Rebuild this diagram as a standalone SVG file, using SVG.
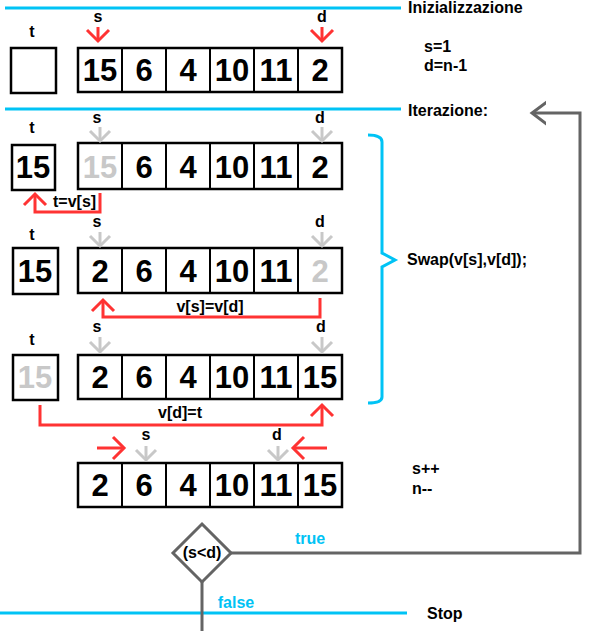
<svg xmlns="http://www.w3.org/2000/svg" width="592" height="632" viewBox="0 0 592 632">
<style>
text{font-family:"Liberation Sans",Arial,sans-serif;font-weight:bold;fill:#000}
.lbl{font-size:16px}
.num{font-size:31px;text-anchor:middle}
.ghost{fill:#c8c8c8}
.mid{text-anchor:middle}
.cy{fill:#00c3f5}
.box{fill:#fff;stroke:#000;stroke-width:2.5}
.div{stroke:#000;stroke-width:2}
.sep{stroke:#00c3f5;stroke-width:3;fill:none}
.red{stroke:#f33;stroke-width:3;fill:none;marker-end:url(#hr)}
.gp{stroke:#c8c8c8;stroke-width:3;fill:none;marker-end:url(#hg)}
.flow{stroke:#646464;stroke-width:3;fill:none}
</style>
<defs>
<marker id="hr" viewBox="-13 -13 26 26" markerWidth="26" markerHeight="26" markerUnits="userSpaceOnUse" orient="auto" refX="0" refY="0"><path d="M-11,-11 L0,0 L-11,11" fill="none" stroke="#f33" stroke-width="3"/></marker>
<marker id="hg" viewBox="-13 -13 26 26" markerWidth="26" markerHeight="26" markerUnits="userSpaceOnUse" orient="auto" refX="0" refY="0"><path d="M-10,-10 L0,0 L-10,10" fill="none" stroke="#c8c8c8" stroke-width="3"/></marker>
<marker id="hk" viewBox="-14 -14 28 28" markerWidth="28" markerHeight="28" markerUnits="userSpaceOnUse" orient="auto" refX="0" refY="0"><path d="M-16,-12 L0,0 L-16,12" fill="none" stroke="#646464" stroke-width="3"/></marker>
</defs>

<g id="separators">
<line class="sep" x1="5" y1="8" x2="401" y2="8"/>
<text class="lbl" x="408" y="13">Inizializzazione</text>
<line class="sep" x1="5" y1="109" x2="401" y2="109"/>
<text class="lbl" x="408" y="116">Iterazione:</text>
<line class="sep" x1="0" y1="613" x2="407" y2="613"/>
<text class="lbl" x="427" y="619">Stop</text>
</g>

<g id="row1">
<text class="lbl mid" x="32" y="37">t</text>
<rect class="box" x="11" y="48" width="45" height="45"/>
<rect class="box" x="78" y="48" width="264" height="44"/>
<path class="div" d="M122,48V92M166,48V92M210,48V92M254,48V92M298,48V92"/>
<text class="num" x="100" y="81">15</text><text class="num" x="144" y="81">6</text><text class="num" x="188" y="81">4</text><text class="num" x="232" y="81">10</text><text class="num" x="276" y="81">11</text><text class="num" x="320" y="81">2</text>
<text class="lbl mid" x="98" y="22">s</text>
<text class="lbl mid" x="322" y="22">d</text>
<line class="red" x1="98" y1="27" x2="98" y2="41"/>
<line class="red" x1="322" y1="27" x2="322" y2="41"/>
<text class="lbl" x="424" y="52">s=1</text>
<text class="lbl" x="424" y="71">d=n-1</text>
</g>

<g id="row2">
<text class="lbl mid" x="32" y="133">t</text>
<rect class="box" x="12" y="145" width="43" height="45"/>
<text class="num" x="33" y="178">15</text>
<rect class="box" x="78" y="143" width="264" height="46"/>
<path class="div" d="M122,143V189M166,143V189M210,143V189M254,143V189M298,143V189"/>
<text class="num ghost" x="100" y="178">15</text><text class="num" x="144" y="178">6</text><text class="num" x="188" y="178">4</text><text class="num" x="232" y="178">10</text><text class="num" x="276" y="178">11</text><text class="num" x="320" y="178">2</text>
<text class="lbl mid" x="97" y="123">s</text>
<text class="lbl mid" x="320" y="123">d</text>
<line class="gp" x1="100" y1="127" x2="100" y2="141"/>
<line class="gp" x1="322" y1="127" x2="322" y2="141"/>
</g>

<g id="row3">
<text class="lbl mid" x="32" y="240">t</text>
<rect class="box" x="13" y="248" width="45" height="46"/>
<text class="num" x="35" y="282">15</text>
<rect class="box" x="78" y="248" width="264" height="45"/>
<path class="div" d="M122,248V293M166,248V293M210,248V293M254,248V293M298,248V293"/>
<text class="num" x="100" y="282">2</text><text class="num" x="144" y="282">6</text><text class="num" x="188" y="282">4</text><text class="num" x="232" y="282">10</text><text class="num" x="276" y="282">11</text><text class="num ghost" x="320" y="282">2</text>
<text class="lbl mid" x="97" y="227">s</text>
<text class="lbl mid" x="320" y="227">d</text>
<line class="gp" x1="100" y1="232" x2="100" y2="246"/>
<line class="gp" x1="322" y1="232" x2="322" y2="246"/>
</g>

<g id="row4">
<text class="lbl mid" x="32" y="345">t</text>
<rect class="box" x="13" y="355" width="45" height="45"/>
<text class="num ghost" x="35" y="388">15</text>
<rect class="box" x="78" y="355" width="264" height="44"/>
<path class="div" d="M122,355V399M166,355V399M210,355V399M254,355V399M298,355V399"/>
<text class="num" x="100" y="388">2</text><text class="num" x="144" y="388">6</text><text class="num" x="188" y="388">4</text><text class="num" x="232" y="388">10</text><text class="num" x="276" y="388">11</text><text class="num" x="320" y="388">15</text>
<text class="lbl mid" x="97" y="332">s</text>
<text class="lbl mid" x="321" y="332">d</text>
<line class="gp" x1="100" y1="337" x2="100" y2="352"/>
<line class="gp" x1="322" y1="337" x2="322" y2="352"/>
</g>

<g id="row5">
<rect class="box" x="78" y="463" width="264" height="44"/>
<path class="div" d="M122,463V507M166,463V507M210,463V507M254,463V507M298,463V507"/>
<text class="num" x="100" y="496">2</text><text class="num" x="144" y="496">6</text><text class="num" x="188" y="496">4</text><text class="num" x="232" y="496">10</text><text class="num" x="276" y="496">11</text><text class="num" x="320" y="496">15</text>
<text class="lbl mid" x="146" y="440">s</text>
<text class="lbl mid" x="277" y="440">d</text>
<line class="gp" x1="146" y1="446" x2="146" y2="460"/>
<line class="gp" x1="278" y1="446" x2="278" y2="460"/>
<line class="red" x1="97" y1="448" x2="124" y2="448"/>
<line class="red" x1="327" y1="448" x2="293" y2="448"/>
<text class="lbl" x="412" y="474">s++</text>
<text class="lbl" x="412" y="494">n--</text>
</g>

<g id="swap">
<path class="sep" d="M368,135 Q382,135 382,142 V253 L395,260 L382,267 V397 Q382,403 368,403"/>
<text class="lbl" x="407" y="265">Swap(v[s],v[d]);</text>
</g>

<g id="decision">
<path class="flow" d="M202,524 L231,553 L202,582 L173,553 Z" fill="#fff"/>
<text class="lbl mid" x="202" y="558">(s&lt;d)</text>
</g>

<g id="connectors">
<path class="red" d="M100,193 V212 H35 V194"/>
<text class="lbl" x="53" y="207">t=v[s]</text>
<path class="red" d="M320,298 V317 H103 V300"/>
<text class="lbl mid" x="210" y="312">v[s]=v[d]</text>
<path class="red" d="M40,405 V425 H322 V405"/>
<text class="lbl mid" x="180" y="418">v[d]=t</text>
<path class="flow" d="M231,553 H580 V113 H532" marker-end="url(#hk)"/>
<text class="lbl mid cy" x="310" y="544">true</text>
<line class="flow" x1="202" y1="582" x2="202" y2="631"/>
<text class="lbl mid cy" x="236" y="608">false</text>
</g>
</svg>
